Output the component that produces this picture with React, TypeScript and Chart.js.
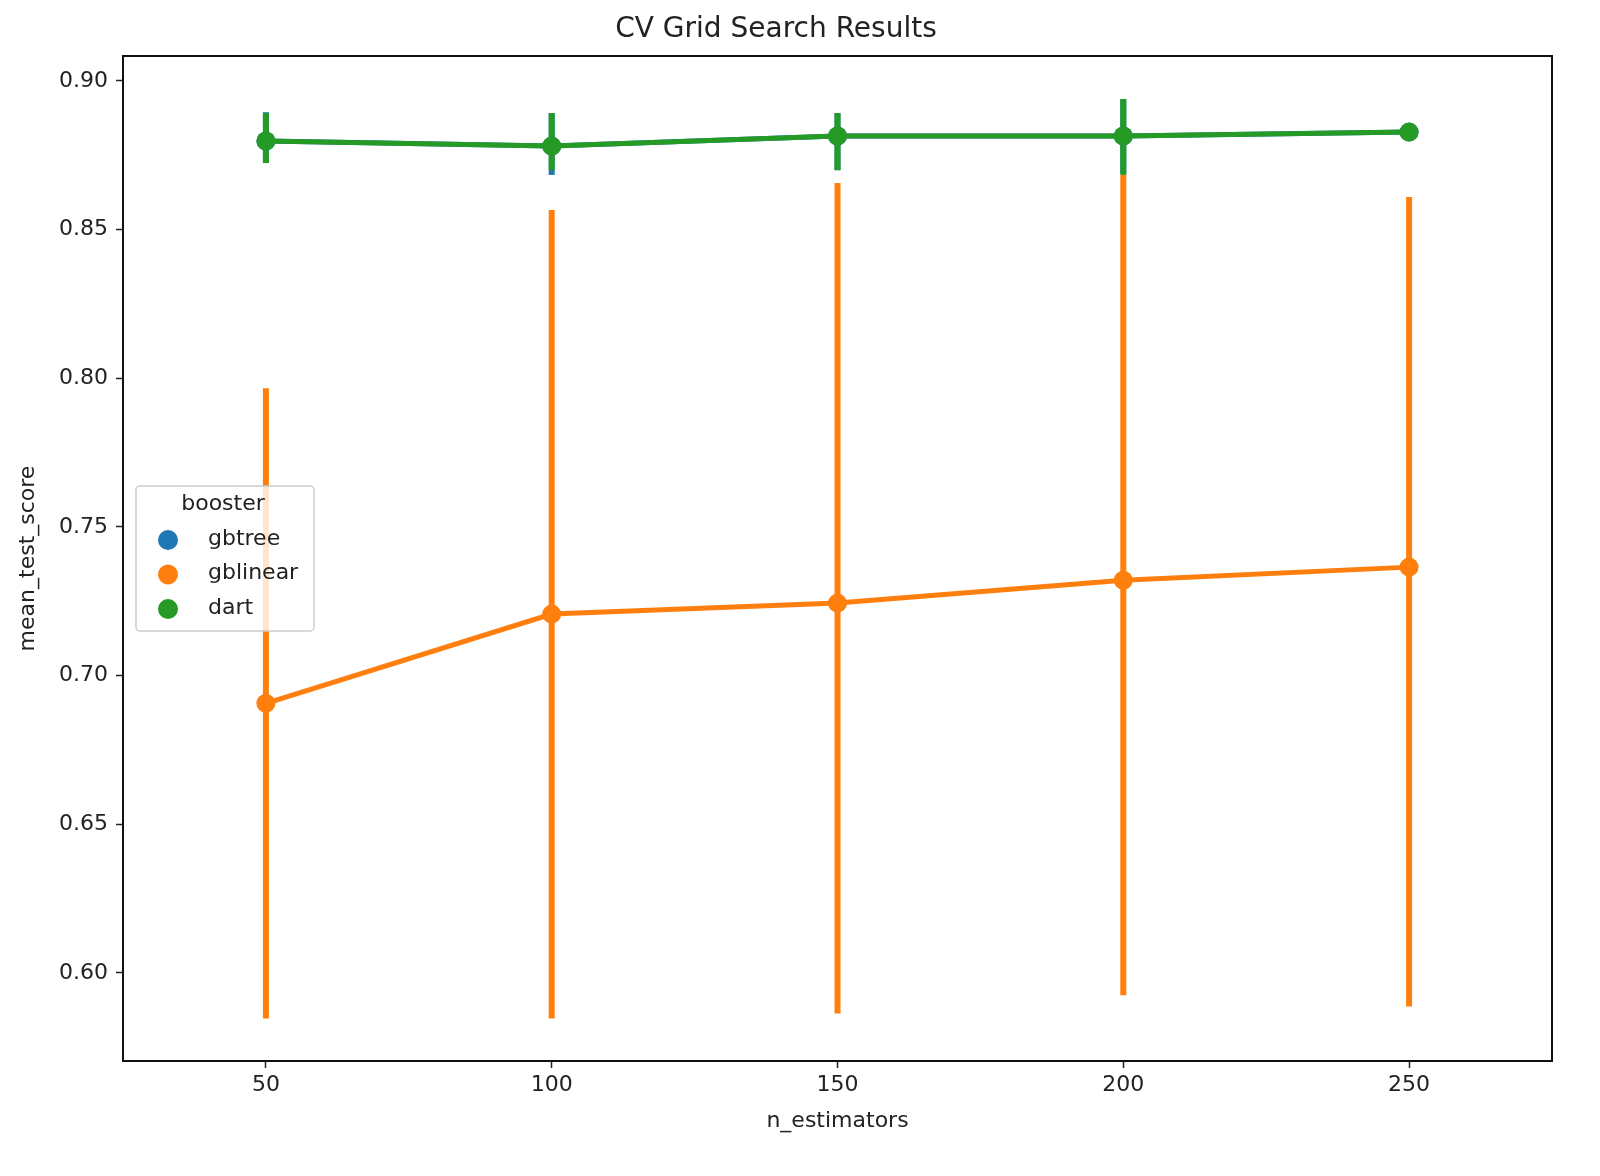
import React, { useEffect, useRef } from "react";
import { Chart, registerables, Plugin } from "chart.js";

Chart.register(...registerables);

const categories = ["50", "100", "150", "200", "250"];
const yTicks = [0.6, 0.65, 0.7, 0.75, 0.8, 0.85, 0.9];

// mean test scores per booster
const gbtreeMean = [0.8798, 0.8781, 0.8815, 0.8815, 0.8828];
const gblinearMean = [0.6907, 0.7207, 0.7244, 0.7321, 0.7365];
const dartMean = [0.8798, 0.8781, 0.8815, 0.8815, 0.8828];

// error bar extents (low / high)
const gbtreeLow = [0.8724, 0.8684, 0.870, 0.869, 0.8822];
const gbtreeHigh = [0.8895, 0.8892, 0.8892, 0.8939, 0.8834];
const gblinearLow = [0.5847, 0.5847, 0.5864, 0.5925, 0.5887];
const gblinearHigh = [0.7967, 0.8566, 0.8657, 0.8684, 0.861];
const dartLow = [0.8724, 0.870, 0.870, 0.8684, 0.8822];
const dartHigh = [0.8892, 0.8892, 0.8892, 0.8939, 0.8834];

const BLUE = "#1f77b4";
const ORANGE = "#ff7f0e";
const GREEN = "#259a25";

const FONT = "'DejaVu Sans', sans-serif";

const series = [
  { name: "gbtree", color: BLUE, mean: gbtreeMean, low: gbtreeLow, high: gbtreeHigh },
  { name: "gblinear", color: ORANGE, mean: gblinearMean, low: gblinearLow, high: gblinearHigh },
  { name: "dart", color: GREEN, mean: dartMean, low: dartLow, high: dartHigh },
];

// error bars drawn before datasets, frame and legend after
const extrasPlugin: Plugin<"line"> = {
  id: "extras",
  beforeDatasetsDraw(chart) {
    const { ctx, scales } = chart;
    const x = scales.x;
    const y = scales.y;
    ctx.save();
    ctx.lineCap = "butt";
    ctx.lineWidth = 6;
    series.forEach((s) => {
      ctx.strokeStyle = s.color;
      s.low.forEach((lo, i) => {
        const px = x.getPixelForValue(i);
        ctx.beginPath();
        ctx.moveTo(px, y.getPixelForValue(lo));
        ctx.lineTo(px, y.getPixelForValue(s.high[i]));
        ctx.stroke();
      });
    });
    ctx.restore();
  },
  afterDraw(chart) {
    const { ctx, chartArea } = chart;
    ctx.save();
    ctx.strokeStyle = "#111";
    ctx.lineWidth = 2;
    ctx.strokeRect(
      chartArea.left,
      chartArea.top,
      chartArea.right - chartArea.left,
      chartArea.bottom - chartArea.top
    );

    // legend box
    const bx = 136;
    const by = 486;
    const bw = 178;
    const bh = 145;
    ctx.fillStyle = "rgba(255,255,255,0.8)";
    ctx.strokeStyle = "#cccccc";
    ctx.lineWidth = 1.5;
    ctx.beginPath();
    ctx.roundRect(bx, by, bw, bh, 4);
    ctx.fill();
    ctx.stroke();

    ctx.fillStyle = "#222";
    ctx.font = `22px ${FONT}`;
    ctx.textBaseline = "middle";
    ctx.textAlign = "center";
    ctx.fillText("booster", bx + bw / 2 - 2, by + 18);
    ctx.textAlign = "left";
    series.forEach((s, i) => {
      const cy = by + 54 + i * 34.5;
      ctx.fillStyle = s.color;
      ctx.beginPath();
      ctx.arc(bx + 32, cy, 10, 0, Math.PI * 2);
      ctx.fill();
      ctx.fillStyle = "#222";
      ctx.fillText(s.name, bx + 72, cy - 1);
    });
    ctx.restore();
  },
};

export default function App() {
  const canvasRef = useRef<HTMLCanvasElement | null>(null);
  const chartInstance = useRef<Chart | null>(null);

  useEffect(() => {
    document.body.style.margin = "0";
    if (!canvasRef.current) return;
    if (chartInstance.current) chartInstance.current.destroy();

    const tickFont = { family: FONT, size: 22 };

    chartInstance.current = new Chart(canvasRef.current, {
      type: "line",
      data: {
        labels: categories,
        datasets: series.map((s, i) => ({
          label: s.name,
          data: s.mean,
          borderColor: s.color,
          backgroundColor: s.color,
          borderWidth: 5,
          pointRadius: 9.5,
          pointHoverRadius: 9.5,
          pointBorderWidth: 0,
          tension: 0,
          // dart on top, then gblinear, then gbtree
          order: i === 2 ? 0 : i === 1 ? 1 : 2,
        })),
      },
      options: {
        animation: false,
        responsive: false,
        devicePixelRatio: 1,
        layout: { padding: { left: 0, right: 48, top: 0, bottom: 0 } },
        plugins: {
          legend: { display: false },
          tooltip: { enabled: false },
          title: {
            display: true,
            text: "CV Grid Search Results",
            color: "#222",
            font: { family: FONT, size: 28, weight: "normal" },
            padding: { top: 13, bottom: 9.4 },
          },
        },
        scales: {
          x: {
            type: "category",
            offset: true,
            grid: {
              offset: false,
              drawOnChartArea: false,
              drawTicks: true,
              tickLength: 7,
              tickWidth: 1.5,
              color: "#222",
            },
            border: { display: true, color: "#111", width: 2 },
            ticks: { color: "#222", font: tickFont, padding: 4 },
            title: {
              display: true,
              text: "n_estimators",
              color: "#222",
              font: { family: FONT, size: 22 },
              padding: { top: 0, bottom: 42 },
            },
            afterFit: (scale) => {
              scale.height = 1176 - 1061;
            },
          },
          y: {
            type: "linear",
            min: 0.5704,
            max: 0.9084,
            grid: {
              drawOnChartArea: false,
              drawTicks: true,
              tickLength: 7,
              tickWidth: 1.5,
              color: "#222",
            },
            border: { display: true, color: "#111", width: 2 },
            ticks: {
              color: "#222",
              font: tickFont,
              padding: 8,
              callback: (v) => Number(v).toFixed(2),
            },
            afterBuildTicks: (scale) => {
              scale.ticks = yTicks.map((v) => ({ value: v }));
            },
            title: {
              display: true,
              text: "mean_test_score",
              color: "#222",
              font: { family: FONT, size: 22 },
              padding: { top: 15, bottom: 0 },
            },
            afterFit: (scale) => {
              scale.width = 123;
            },
          },
        },
      },
      plugins: [extrasPlugin],
    });

    return () => {
      if (chartInstance.current) {
        chartInstance.current.destroy();
        chartInstance.current = null;
      }
    };
  }, []);

  return (
    <div style={{ width: 1600, height: 1176, background: "#fff" }}>
      <canvas ref={canvasRef} width={1600} height={1176} />
    </div>
  );
}
